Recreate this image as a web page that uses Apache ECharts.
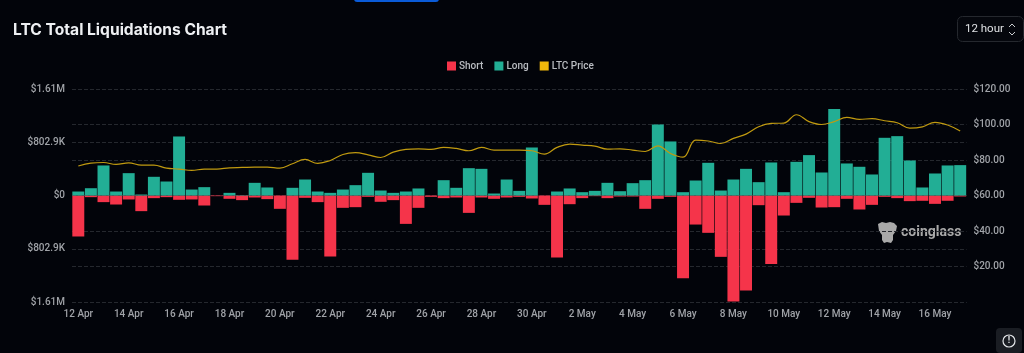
<!DOCTYPE html>
<html lang="en">
<head>
<meta charset="UTF-8">
<title>LTC Total Liquidations Chart</title>
<style>
    html, body { margin: 0; padding: 0; background: #02040a; }
    #chart { width: 1024px; height: 353px; }
</style>
<script src="https://cdn.jsdelivr.net/npm/echarts@6/dist/echarts.min.js"></script>
</head>
<body>
<div id="chart"></div>
<script>
var days = ['12 Apr','13 Apr','14 Apr','15 Apr','16 Apr','17 Apr','18 Apr','19 Apr','20 Apr','21 Apr','22 Apr','23 Apr',
    '24 Apr','25 Apr','26 Apr','27 Apr','28 Apr','29 Apr','30 Apr','1 May','2 May','3 May','4 May','5 May','6 May','7 May',
    '8 May','9 May','10 May','11 May','12 May','13 May','14 May','15 May','16 May','17 May'];

// liquidations per 12h bar, in USD thousands
var longK = [60,110,453,60,337,15,282,211,890,90,126,0,40,5,191,121,0,116,241,60,40,
    90,156,342,75,40,60,106,0,231,116,412,402,30,241,70,724,0,60,106,50,70,191,65,186,231,1071,815,
    50,226,493,75,241,402,201,498,50,508,609,347,1303,483,433,317,870,895,528,121,332,453,458];
var shortK = [-618,-25,-100,-136,-60,-236,-40,-25,-65,-60,-151,-10,-50,-70,-30,-55,-201,-970,-35,-100,-920,
    -186,-176,-20,-95,-70,-428,-186,-20,-40,-30,-262,-30,-50,-30,-20,-45,-141,-935,-131,-40,-10,-40,-15,-15,-201,-50,-20,
    -1247,-438,-563,-925,-1600,-1433,-146,-1031,-302,-111,-35,-181,-176,-50,-211,-141,-20,-40,-85,-80,-126,-80,-15];
var ltcPrice = [76.6,78.2,78.6,77.5,78.4,77.1,77.1,75.4,74.9,74.1,74.9,74.9,75.6,75.8,76,76,75.4,77.9,80.3,78.1,79.7,
    83.1,84.1,82.9,81.4,84.4,86,86.3,86,87.1,86.5,85.2,87.1,85.6,85.6,85.6,85.2,83.3,87.1,89,88.4,87.8,86.1,86.3,85.6,84.8,88,83.7,
    81.6,91.2,90.7,89.3,92.2,94.6,98.7,100.6,100.8,105.5,101.6,100,101.6,104,102.9,103.3,102.1,101,98,98.7,101.2,99.7,96.3];
var leftTicks = ['$1.61M','$802.9K','$0','$802.9K','$1.61M'];

// two bars a day, last day only has the morning one
var categories = [];
days.forEach(function (d) {
    categories.push(d + ' 00:00');
    categories.push(d + ' 12:00');
});
categories = categories.slice(0, longK.length);

var chart = echarts.init(document.getElementById('chart'));
var labelColor = '#a0a3a8';
var fontName = 'Roboto, sans-serif';

var option = {
    animation: false,
    backgroundColor: '#02040a',
    textStyle: { fontFamily: fontName },
    title: {
        text: 'LTC Total Liquidations Chart',
        left: 8,
        top: 17,
        textStyle: { color: '#eef0f3', fontSize: 15.6, fontWeight: 700, fontFamily: 'Inter' }
    },
    legend: {
        top: 56,
        left: 442,
        itemWidth: 9,
        itemHeight: 9,
        itemGap: 11,
        icon: 'rect',
        data: ['Short', 'Long', 'LTC Price'],
        textStyle: { color: '#b9bcc1', fontSize: 10, fontWeight: 500, fontFamily: fontName, padding: [0, 0, 0, -2] }
    },
    grid: { left: 72, right: 57.5, top: 89, bottom: 51 },
    xAxis: {
        type: 'category',
        data: categories,
        axisLine: { show: false },
        axisTick: { show: false },
        axisLabel: {
            interval: 3,
            color: labelColor,
            fontSize: 10,
            fontWeight: 500,
            margin: 7,
            formatter: function (v) { return v.split(' ').slice(0, 2).join(' '); }
        }
    },
    yAxis: [
        {
            type: 'value',
            min: -1605800,
            max: 1605800,
            interval: 802900,
            axisLine: { show: false },
            axisTick: { show: false },
            splitLine: { lineStyle: { color: '#25282e', type: 'dashed' } },
            axisLabel: {
                color: labelColor,
                fontSize: 10,
                fontWeight: 500,
                margin: 7,
                formatter: function (v) {
                    return leftTicks[Math.round((1605800 - v) / 802900)];
                }
            }
        },
        {
            type: 'value',
            min: 0,
            max: 120,
            interval: 20,
            position: 'right',
            axisLine: { show: false },
            axisTick: { show: false },
            splitLine: { lineStyle: { color: '#25282e', type: 'dashed' } },
            axisLabel: {
                color: labelColor,
                fontSize: 10,
                fontWeight: 500,
                margin: 7,
                formatter: function (v) { return v === 0 ? '' : '$' + v.toFixed(2); }
            }
        }
    ],
    series: [
        {
            name: 'Short',
            type: 'bar',
            stack: 'liq',
            barWidth: '95%',
            itemStyle: { color: '#f5344a' },
            data: shortK.map(function (v) { return v * 1000; })
        },
        {
            name: 'Long',
            type: 'bar',
            stack: 'liq',
            barWidth: '95%',
            itemStyle: { color: '#22ae95' },
            data: longK.map(function (v) { return v * 1000; })
        },
        {
            name: 'LTC Price',
            type: 'line',
            yAxisIndex: 1,
            smooth: 0.4,
            showSymbol: false,
            z: 5,
            itemStyle: { color: '#f0b90b' },
            lineStyle: { color: '#c09a10', width: 1.2 },
            data: ltcPrice
        }
    ],
    graphic: [
        // clipped tab at the top edge
        { type: 'rect', shape: { x: 354, y: -6, width: 85, height: 8, r: 3 }, style: { fill: '#0a5bd8' } },
        // interval selector
        { type: 'rect', shape: { x: 957.5, y: 16.5, width: 66, height: 25, r: 5 }, style: { fill: '#05070d', stroke: '#25282e' } },
        { type: 'text', x: 965, y: 23, style: { text: '12 hour', fill: '#dfe1e4', fontSize: 11.5, fontFamily: fontName } },
        { type: 'polyline', shape: { points: [[1009, 27], [1012, 24], [1015, 27]] }, style: { stroke: '#c9ccd0', fill: null, lineWidth: 1 } },
        { type: 'polyline', shape: { points: [[1009, 32], [1012, 35], [1015, 32]] }, style: { stroke: '#c9ccd0', fill: null, lineWidth: 1 } },
        // watermark
        {
            type: 'polygon',
            shape: { points: [[878,224],[882,222],[886,223],[890,222],[894,223],[897,226],[896,231],[893,235],[893,240],[891,243],[887,242],[884,243],[882,240],[882,235],[879,231]] },
            style: { fill: '#a9a9a9' }
        },
        { type: 'text', x: 901, y: 225, style: { text: 'coinglass', fill: '#a9a9a9', fontSize: 14, fontWeight: 700, fontFamily: fontName } },
        // feedback button
        { type: 'rect', shape: { x: 996, y: 328, width: 26, height: 25, r: 4 }, style: { fill: '#1a1d23' } },
        { type: 'circle', shape: { cx: 1009, cy: 341, r: 6 }, style: { fill: null, stroke: '#e4e6e9', lineWidth: 1.2 } },
        { type: 'text', x: 1009, y: 336, style: { text: '!', fill: '#e4e6e9', fontSize: 9, fontWeight: 700, align: 'center', fontFamily: fontName } }
    ]
};
chart.setOption(option);
</script>
</body>
</html>
